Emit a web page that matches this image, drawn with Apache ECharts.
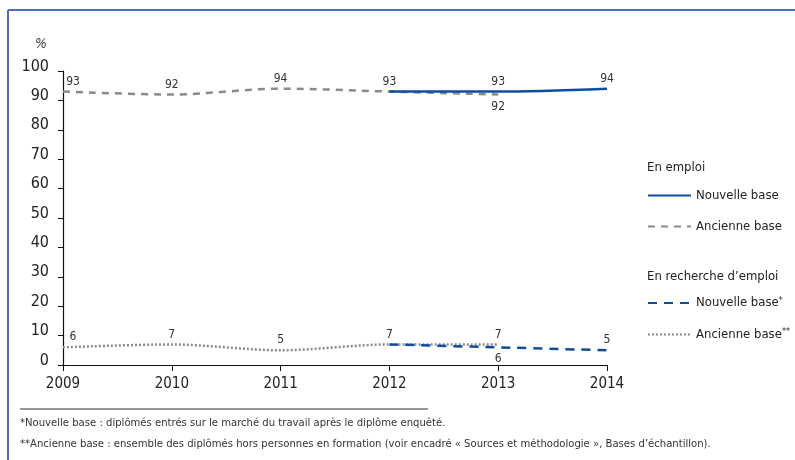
<!DOCTYPE html>
<html><head><meta charset="utf-8">
<script src="https://cdn.jsdelivr.net/npm/echarts@6/dist/echarts.min.js"></script>
<style>html,body{margin:0;padding:0;background:#fff}#c{width:795px;height:460px}</style>
</head><body><div id="c"></div>
<script>
const years = ['2009','2010','2011','2012','2013','2014'];
const emploiNouvelle = ['-','-','-',93,93,94];
const emploiAncienne = [93,92,94,93,92,'-'];
const rechercheNouvelle = ['-','-','-',7,6,5];
const rechercheAncienne = [6,7,5,7,7,'-'];
const yTicks = [0,10,20,30,40,50,60,70,80,90,100];

const FONT = '"Liberation Sans Narrow","DejaVu Sans Condensed","Noto Sans",sans-serif';
const BLUE = '#0c4fa0', GRAY = '#8a8a8a';

function lbl(pos, extra) {
  return Object.assign({show:true, position:pos, fontFamily:FONT, fontSize:12, color:'#333', distance:4}, extra||{});
}
function mk(arr, labelFn) {
  return arr.map((v,i)=> v==='-' ? '-' : {value:v, label: labelFn(i)});
}
const common = {type:'line', symbol:'circle', symbolSize:0, showSymbol:true, smooth:0.3};

const legendText = {fontFamily:FONT, fontSize:13, color:'#222',
  rich:{sup:{fontFamily:FONT, fontSize:9, color:'#222', padding:[0,0,5,0]}}};

const chart = echarts.init(document.getElementById('c'), null, {renderer:'canvas'});
chart.setOption({
  animation:false,
  grid:{left:63, right:188, top:71, bottom:95},
  xAxis:{type:'category', data:years, boundaryGap:false,
    axisLine:{lineStyle:{color:'#111', width:1.2}},
    axisTick:{show:true, length:6, lineStyle:{color:'#111'}},
    axisLabel:{fontFamily:FONT, fontSize:15, color:'#222', margin:12},
    splitLine:{show:false}},
  yAxis:{type:'value', min:0, max:100, interval:10,
    axisLine:{show:true, lineStyle:{color:'#111', width:1.2}},
    axisTick:{show:true, length:5, lineStyle:{color:'#111'}},
    axisLabel:{color:'#222', margin:10, verticalAlign:'middle',
      formatter:v=>yTicks.includes(v)?'{a|'+v+'}':'',
      rich:{a:{fontFamily:FONT, fontSize:16, color:'#222', padding:[0,4,9,0]}}},
    splitLine:{show:false}},
  legend:[
    {orient:'vertical', left:647, top:189, padding:0, itemGap:18, itemWidth:43, itemHeight:16,
     data:['Nouvelle base','Ancienne base'], itemStyle:{opacity:0},
     formatter: n => n.replace(/(\*+)$/, '{sup|$1}'),
     textStyle:legendText, selectedMode:false},
    {orient:'vertical', left:647, top:296, padding:0, itemGap:18, itemWidth:43, itemHeight:16,
     data:['Nouvelle base*','Ancienne base**'], itemStyle:{opacity:0},
     formatter: n => n.replace(/(\*+)$/, '{sup|$1}'),
     textStyle:legendText, selectedMode:false}
  ],
  series:[
    Object.assign({}, common, {name:'Ancienne base', z:2,
     lineStyle:{color:GRAY, width:2.5, type:[7,6]}, itemStyle:{color:GRAY},
     data: mk(emploiAncienne, i => i===0 ? lbl('top',{offset:[10,0]}) : i===3 ? {show:false} : i===4 ? lbl('bottom',{distance:6}) : lbl('top'))}),
    Object.assign({}, common, {name:'Nouvelle base', z:3,
     lineStyle:{color:BLUE, width:2.5}, itemStyle:{color:BLUE},
     data: mk(emploiNouvelle, i => lbl('top'))}),
    Object.assign({}, common, {name:'Ancienne base**', z:2,
     lineStyle:{color:GRAY, width:2.5, type:[2,2]}, itemStyle:{color:GRAY},
     data: mk(rechercheAncienne, i => i===0 ? lbl('top',{offset:[10,0]}) : i===3 ? {show:false} : lbl('top'))}),
    Object.assign({}, common, {name:'Nouvelle base*', z:3,
     lineStyle:{color:BLUE, width:2.5, type:[9,7]}, itemStyle:{color:BLUE},
     data: mk(rechercheNouvelle, i => i===4 ? lbl('bottom',{distance:6}) : lbl('top'))})
  ],
  graphic:[
    {type:'line', shape:{x1:8,y1:10,x2:795,y2:10}, style:{stroke:'#4a6fc4', lineWidth:2}},
    {type:'line', shape:{x1:8,y1:10,x2:8,y2:460}, style:{stroke:'#4a6fc4', lineWidth:2}},
    {type:'text', left:35, top:37, style:{text:'%', fontFamily:FONT, fontSize:14, fontStyle:'italic', fill:'#444'}},
    {type:'text', left:647, top:161, style:{text:'En emploi', fontFamily:FONT, fontSize:13, fill:'#222'}},
    {type:'text', left:647, top:270, style:{text:'En recherche d\u2019emploi', fontFamily:FONT, fontSize:13, fill:'#222'}},
    {type:'line', shape:{x1:20,y1:409,x2:428,y2:409}, style:{stroke:'#333', lineWidth:1}},
    {type:'text', left:20, top:418, style:{text:'*Nouvelle base : diplômés entrés sur le marché du travail après le diplôme enquêté.', fontFamily:FONT, fontSize:11.2, fill:'#333'}},
    {type:'text', left:20, top:439, style:{text:'**Ancienne base : ensemble des diplômés hors personnes en formation (voir encadré « Sources et méthodologie », Bases d\u2019échantillon).', fontFamily:FONT, fontSize:11.2, fill:'#333'}}
  ]
});
</script></body></html>
